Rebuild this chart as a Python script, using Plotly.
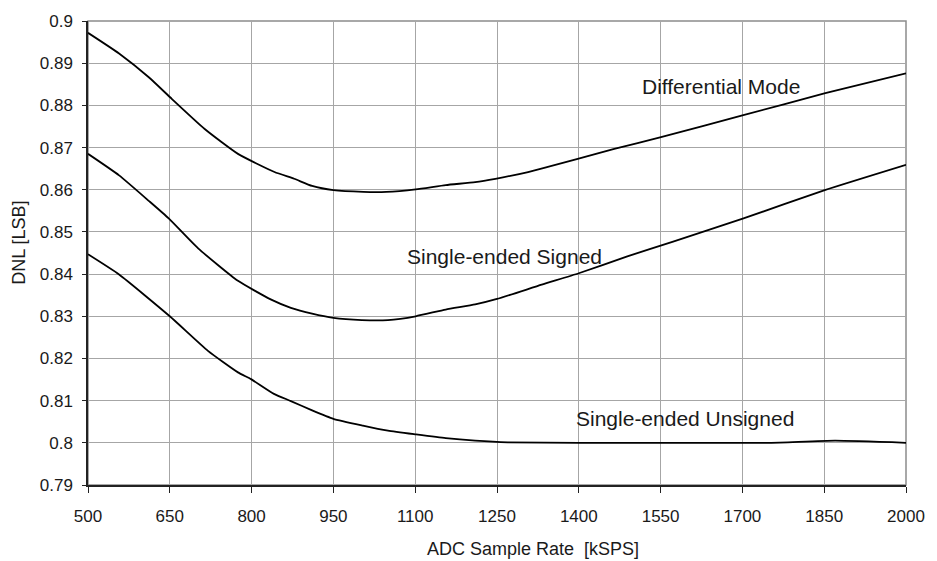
import plotly.graph_objects as go

# Differential Mode
dm_x = [500, 557, 612, 654, 714, 775, 842, 878, 911, 950, 1005, 1047, 1101, 1156, 1210, 1247, 1307, 1398, 1465, 1549, 1700, 1852, 2000]
dm_y = [0.8972, 0.8923, 0.8866, 0.8815, 0.8744, 0.8685, 0.8642, 0.8626, 0.8609, 0.8599, 0.8595, 0.8595, 0.8601, 0.8611, 0.8618, 0.8626, 0.8642, 0.8673, 0.8697, 0.8724, 0.8776, 0.8829, 0.8876]

# Single-ended Signed
ses_x = [500, 557, 612, 648, 702, 775, 835, 872, 911, 950, 1002, 1050, 1101, 1156, 1210, 1250, 1332, 1400, 1489, 1573, 1702, 1851, 2000]
ses_y = [0.8685, 0.8634, 0.8573, 0.8532, 0.8461, 0.8384, 0.8340, 0.8320, 0.8306, 0.8296, 0.8291, 0.8291, 0.8300, 0.8316, 0.8328, 0.8341, 0.8375, 0.8402, 0.8442, 0.8477, 0.8532, 0.8599, 0.8659]

# Single-ended Unsigned
su_x = [500, 557, 650, 720, 775, 799, 841, 872, 911, 950, 1004, 1050, 1101, 1156, 1210, 1270, 1400, 1550, 1750, 1870, 2000]
su_y = [0.8447, 0.8399, 0.8300, 0.8218, 0.8167, 0.8151, 0.8116, 0.8099, 0.8077, 0.8057, 0.8041, 0.8029, 0.8020, 0.8011, 0.8005, 0.8001, 0.8000, 0.8000, 0.8000, 0.8005, 0.8000]

series_names = ["Differential Mode", "Single-ended Signed", "Single-ended Unsigned"]
label_x = [1512, 1082, 1392]
label_y = [0.8844, 0.8442, 0.8058]

x_ticks = [500, 650, 800, 950, 1100, 1250, 1400, 1550, 1700, 1850, 2000]
x_tick_labels = ["500", "650", "800", "950", "1100", "1250", "1400", "1550", "1700", "1850", "2000"]
y_ticks = [0.79, 0.80, 0.81, 0.82, 0.83, 0.84, 0.85, 0.86, 0.87, 0.88, 0.89, 0.90]
y_tick_labels = ["0.79", "0.8", "0.81", "0.82", "0.83", "0.84", "0.85", "0.86", "0.87", "0.88", "0.89", "0.9"]

x_title = "ADC Sample Rate  [kSPS]"
y_title = "DNL [LSB]"

FONT = "Liberation Sans, Arial, Helvetica, sans-serif"
TXT = "#1a1a1a"

fig = go.Figure()
for xs, ys, name in [(dm_x, dm_y, series_names[0]), (ses_x, ses_y, series_names[1]), (su_x, su_y, series_names[2])]:
    fig.add_trace(go.Scatter(x=xs, y=ys, mode="lines", name=name,
                             line=dict(color="black", width=1.8, shape="spline", smoothing=0.5),
                             showlegend=False, hoverinfo="x+y+name"))

for name, lx, ly in zip(series_names, label_x, label_y):
    fig.add_annotation(x=lx, y=ly, xref="x", yref="y", text=name, showarrow=False,
                       xanchor="left", yanchor="middle", font=dict(family=FONT, size=21, color=TXT))

# axis titles
fig.add_annotation(x=(537.5 - 88) / (915 - 88), y=-(549 - 485) / (485 - 18), xref="paper", yref="paper",
                   text=x_title, showarrow=False, xanchor="center", yanchor="middle",
                   font=dict(family=FONT, size=18, color=TXT))
fig.add_annotation(x=-(88 - 18) / (915 - 88), y=(485 - 241.5) / (485 - 18), xref="paper", yref="paper",
                   text=y_title, showarrow=False, textangle=-90, xanchor="center", yanchor="middle",
                   font=dict(family=FONT, size=18, color=TXT))

# gray frame (top/right)
fig.add_shape(type="rect", xref="paper", yref="paper", x0=0, x1=1, y0=0, y1=1,
              line=dict(color="#8c8c8c", width=1.5), layer="below")

fig.update_layout(
    width=937, height=561,
    margin=dict(l=88, r=22, t=18, b=76),
    paper_bgcolor="white", plot_bgcolor="white",
    font=dict(family=FONT, color=TXT),
    xaxis=dict(range=[500, 2000], tickvals=x_ticks, ticktext=x_tick_labels,
               showgrid=True, gridcolor="#a6a6a6", gridwidth=1,
               showline=True, linecolor="#222222", linewidth=1.5,
               ticks="outside", ticklen=6, tickcolor="#222222", tickwidth=1,
               tickfont=dict(family=FONT, size=17, color=TXT), ticklabelstandoff=9,
               zeroline=False, fixedrange=True),
    yaxis=dict(range=[0.79, 0.9], tickvals=y_ticks, ticktext=y_tick_labels,
               showgrid=True, gridcolor="#a6a6a6", gridwidth=1,
               showline=True, linecolor="#222222", linewidth=1.5,
               ticks="outside", ticklen=4, tickcolor="#222222", tickwidth=1,
               tickfont=dict(family=FONT, size=17, color=TXT), ticklabelstandoff=6,
               zeroline=False, fixedrange=True),
)

fig.write_html("out.html", config={"displayModeBar": False},
               post_script="document.body.style.margin='0';document.body.style.overflow='hidden';")
